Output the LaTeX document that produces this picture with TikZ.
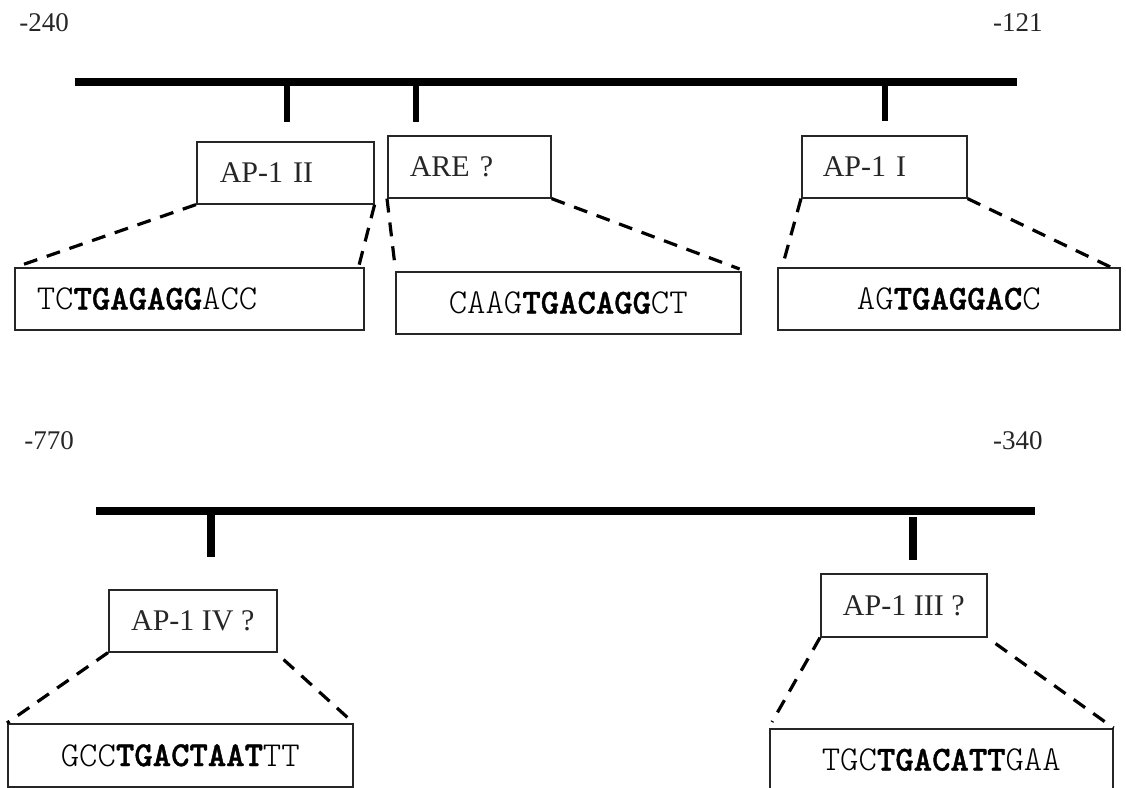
\documentclass[tikz,border=0pt]{standalone}
\usepackage{fontspec}
\setmainfont{Liberation Serif}
\setmonofont{lmmonolt10-regular.otf}[BoldFont=lmmonolt10-bold.otf, BoldFeatures={FakeBold=1.1}]
\usetikzlibrary{calc}
\begin{document}
\begin{tikzpicture}[x=0.5pt,y=-0.5pt,
  box/.style={draw=black!85, line width=0.8pt, rectangle, inner ysep=0pt, inner xsep=0pt, anchor=north west, font=\fontsize{15}{18}\selectfont, text=black!85},
  seqbox/.style={draw=black!85, line width=0.8pt, rectangle, inner ysep=0pt, inner xsep=0pt, anchor=north west, font=\ttfamily\fontsize{17.5}{20}\selectfont, text=black},
  num/.style={font=\fontsize{13.5}{16}\selectfont, text=black!85, inner sep=0pt},
  bar/.style={line width=4pt, black},
  tickline/.style={line width=3pt, black},
  tickthick/.style={line width=4pt, black},
  zoomline/.style={line width=1.6pt, black, dash pattern=on 7pt off 5pt}
]
\useasboundingbox (0,0) rectangle (1126,788);

% position labels
\node[num, anchor=base west] (n240) at (19,31) {-240};
\node[num, anchor=base east] (n121) at (1043,31) {-121};
\node[num, anchor=base west] (n770) at (24,449) {-770};
\node[num, anchor=base east] (n340) at (1043,449) {-340};

% top sequence bar and ticks
\coordinate (L1a) at (75,82);
\coordinate (L1b) at (1017,82);
\draw[bar] (L1a) -- (L1b);
\coordinate (k1a) at (287,82); \coordinate (k1b) at (287,122);
\coordinate (k2a) at (416,82); \coordinate (k2b) at (416,122);
\coordinate (k3a) at (885,82); \coordinate (k3b) at (885,121);
\draw[tickline] (k1a) -- (k1b);
\draw[tickline] (k2a) -- (k2b);
\draw[tickline] (k3a) -- (k3b);

% top boxes
\node[box, minimum width=88.5pt, minimum height=31pt, inner xsep=11.5pt, text width=65.5pt, align=left] (ap2) at (196,141) {AP-1 II};
\node[box, minimum width=81.5pt, minimum height=31pt, inner xsep=11pt, text width=59.5pt, align=left] (are) at (387,135) {ARE ?};
\node[box, minimum width=82.5pt, minimum height=31pt, inner xsep=10.5pt, text width=61.5pt, align=left] (ap1) at (801,135) {AP-1 I};

\node[seqbox, minimum width=174.5pt, minimum height=31pt, inner xsep=11pt, text width=152.5pt, align=left] (s1) at (14,267) {TC\textbf{TGAGAGG}ACC};
\node[seqbox, minimum width=172.5pt, minimum height=31pt] (s2) at (395,271) {CAAG\textbf{TGACAGG}CT};
\node[seqbox, minimum width=171pt, minimum height=31pt] (s3) at (777,267) {AG\textbf{TGAGGAC}C};

\draw[zoomline] (ap2.south west) -- ($(s1.north west)+(2,0)$);
\draw[zoomline] (ap2.south east) -- ($(s1.north east)+(-6,0)$);
\draw[zoomline] (are.south west) -- ($(s2.north west)+(0,-5)$);
\draw[zoomline] (are.south east) -- ($(s2.north east)+(-2,-2)$);
\draw[zoomline] (ap1.south west) -- ($(s3.north west)+(6,-3)$);
\draw[zoomline] (ap1.south east) -- ($(s3.north east)+(-6,2)$);

% bottom sequence bar and ticks
\coordinate (L2a) at (96,511);
\coordinate (L2b) at (1035,511);
\draw[bar] (L2a) -- (L2b);
\coordinate (k4a) at (211,511); \coordinate (k4b) at (211,557);
\coordinate (k5a) at (913,517); \coordinate (k5b) at (913,560);
\draw[tickthick] (k4a) -- (k4b);
\draw[tickthick] (k5a) -- (k5b);

\node[box, minimum width=84pt, minimum height=31pt] (ap4) at (108,589) {AP-1 IV ?};
\node[box, minimum width=83pt, minimum height=31.5pt] (ap3) at (820,573) {AP-1 III ?};

\node[seqbox, minimum width=172.5pt, minimum height=31.5pt] (s4) at (7,723) {GCC\textbf{TGACTAAT}TT};
\node[seqbox, minimum width=171.5pt, minimum height=31pt] (s5) at (769,728) {TGC\textbf{TGACATT}GAA};

\draw[zoomline] (ap4.south west) -- (s4.north west);
\draw[zoomline] ($(ap4.south east)+(6,7)$) -- (s4.north east);
\draw[zoomline] (ap3.south west) -- ($(s5.north west)+(3,-6)$);
\draw[zoomline] ($(ap3.south east)+(8,6)$) -- (s5.north east);
\end{tikzpicture}
\end{document}
